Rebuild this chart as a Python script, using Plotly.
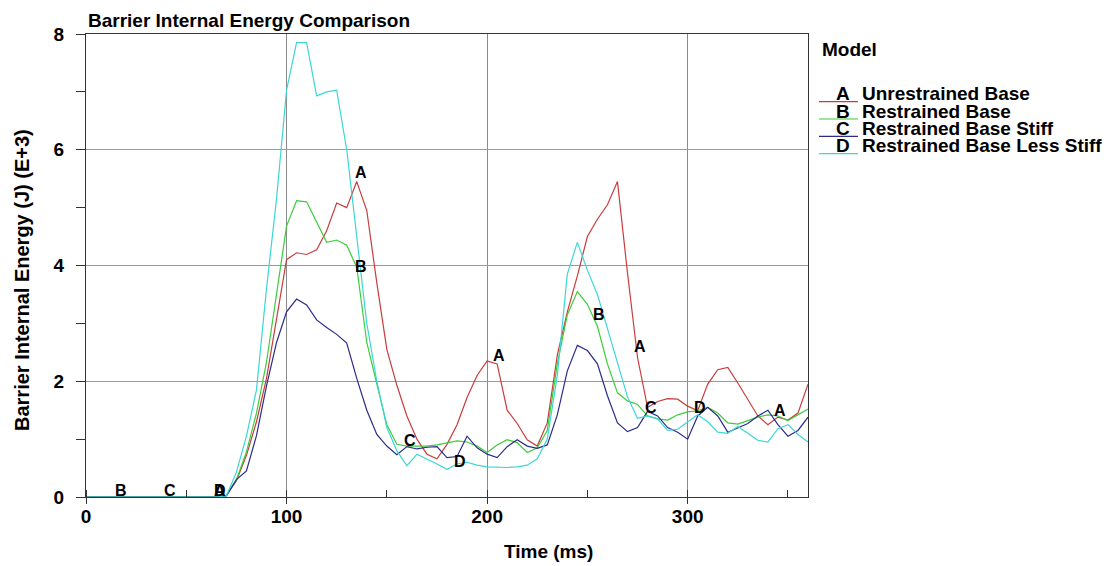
import plotly.graph_objects as go

# ---------------- data ----------------
time_ms = [0, 5, 10, 15, 20, 25, 30, 35, 40, 45, 50, 55, 60, 65,
           70, 75, 80, 85, 90, 95, 100, 105, 110, 115, 120, 125, 130, 135,
           140, 145, 150, 155, 160, 165, 170, 175, 180, 185, 190, 195, 200,
           205, 210, 215, 220, 225, 230, 235, 240, 245, 250, 255, 260, 265,
           270, 275, 280, 285, 290, 295, 300, 305, 310, 315, 320, 325, 330,
           335, 340, 345, 350, 355, 360]

pre_impact = [0.0] * 14  # t = 0 .. 65 ms, all curves flat at zero

unrestrained_base = pre_impact + [
    0.03, 0.28, 0.72, 1.3, 2.05, 3.1, 4.1, 4.22, 4.19, 4.27, 4.6, 5.08, 5.0,
    5.45, 4.95, 3.7, 2.55, 1.93, 1.4, 1.0, 0.74, 0.66, 0.91, 1.25, 1.72, 2.1,
    2.35, 2.3, 1.5, 1.27, 0.99, 0.88, 1.28, 2.45, 3.2, 3.82, 4.5, 4.8, 5.05,
    5.45, 3.87, 2.41, 1.55, 1.65, 1.7, 1.69, 1.57, 1.49, 1.95, 2.2, 2.24,
    1.97, 1.68, 1.4, 1.25, 1.38, 1.33, 1.45, 1.95]

restrained_base = pre_impact + [
    0.03, 0.3, 0.78, 1.45, 2.33, 3.5, 4.68, 5.12, 5.1, 4.75, 4.4, 4.44, 4.35,
    3.97, 2.67, 1.95, 1.25, 0.91, 0.88, 0.88, 0.88, 0.9, 0.94, 0.97, 0.95,
    0.88, 0.77, 0.9, 0.99, 0.94, 0.77, 0.85, 1.15, 2.3, 3.15, 3.55, 3.33,
    2.95, 2.3, 1.8, 1.66, 1.6, 1.4, 1.35, 1.33, 1.42, 1.47, 1.49, 1.55, 1.45,
    1.28, 1.26, 1.32, 1.38, 1.42, 1.4, 1.32, 1.42, 1.52]

restrained_base_stiff = pre_impact + [
    0.02, 0.3, 0.45, 1.06, 1.92, 2.67, 3.2, 3.42, 3.32, 3.06, 2.93, 2.81,
    2.66, 2.05, 1.5, 1.08, 0.88, 0.73, 0.87, 0.83, 0.86, 0.87, 0.68, 0.7,
    1.05, 0.85, 0.74, 0.68, 0.87, 0.99, 0.88, 0.84, 0.9, 1.42, 2.18, 2.62,
    2.53, 2.3, 1.75, 1.28, 1.13, 1.2, 1.48, 1.4, 1.2, 1.12, 1.0, 1.4, 1.55,
    1.4, 1.12, 1.2, 1.27, 1.4, 1.5, 1.25, 1.05, 1.15, 1.38]

restrained_base_less_stiff = pre_impact + [
    0.02, 0.43, 1.05, 1.85, 3.6, 5.15, 7.03, 7.85, 7.85, 6.93, 7.0, 7.03,
    6.0, 4.5, 3.0, 2.0, 1.2, 0.8, 0.54, 0.74, 0.66, 0.57, 0.48, 0.57, 0.6,
    0.55, 0.52, 0.51, 0.51, 0.52, 0.55, 0.66, 1.0, 2.1, 3.85, 4.4, 3.92, 3.5,
    2.9, 2.3, 1.73, 1.36, 1.4, 1.35, 1.15, 1.17, 1.3, 1.42, 1.3, 1.12, 1.1,
    1.22, 1.1, 0.98, 0.95, 1.18, 1.25, 1.08, 0.95]

series_values = [unrestrained_base, restrained_base,
                 restrained_base_stiff, restrained_base_less_stiff]
series_names = ["Unrestrained Base", "Restrained Base",
                "Restrained Base Stiff", "Restrained Base Less Stiff"]
series_letters = ["A", "B", "C", "D"]
series_colors = ["#c93c3c", "#3ccc3c", "#2b2b8c", "#3cd6d6"]

# curve identification letters placed along the curves
label_letters = ["B", "C", "D", "A",
                 "A", "B", "C", "D", "A",
                 "B", "A", "C", "D", "A"]
label_time = [17.4, 41.9, 66.8, 66.8,
              137, 137, 161.4, 186.3, 206,
              256, 276, 281.5, 306, 345.8]
label_energy = [0.12, 0.12, 0.12, 0.12,
                5.6, 3.98, 0.98, 0.62, 2.45,
                3.16, 2.6, 1.55, 1.55, 1.5]

x_ticks = [0, 100, 200, 300]
y_ticks = [0, 2, 4, 6, 8]

# ---------------- figure ----------------
FONT = "Liberation Sans, Arial, sans-serif"
W, H = 1115, 566
L, R, T, B = 86, 808, 34, 497


def px_x(px):
    return (px - L) / (R - L)


def px_y(py):
    return (B - py) / (B - T)


fig = go.Figure()
for vals, name, color in zip(series_values, series_names, series_colors):
    fig.add_trace(go.Scatter(x=time_ms, y=vals, mode="lines", name=name,
                             line=dict(color=color, width=1.2),
                             showlegend=False, hoverinfo="skip"))

annotations = []
for letter, t, e in zip(label_letters, label_time, label_energy):
    annotations.append(dict(x=t, y=e, xref="x", yref="y", text=f"<b>{letter}</b>",
                            showarrow=False, xanchor="center", yanchor="middle",
                            font=dict(family=FONT, size=16, color="black")))

# chart title
annotations.append(dict(x=px_x(86), y=px_y(21), xref="paper", yref="paper",
                        text="<b>Barrier Internal Energy Comparison</b>",
                        showarrow=False, xanchor="left", yanchor="middle",
                        font=dict(family=FONT, size=19, color="black")))
# axis titles
annotations.append(dict(x=px_x(548), y=px_y(551), xref="paper", yref="paper",
                        text="<b>Time (ms)</b>", showarrow=False,
                        xanchor="center", yanchor="middle",
                        font=dict(family=FONT, size=19, color="black")))
annotations.append(dict(x=px_x(22), y=px_y(280), xref="paper", yref="paper",
                        text="<b>Barrier Internal Energy (J) (E+3)</b>",
                        showarrow=False, textangle=-90,
                        xanchor="center", yanchor="middle",
                        font=dict(family=FONT, size=20, color="black")))

# legend drawn by hand: title, letters with coloured underline, names
annotations.append(dict(x=px_x(820), y=px_y(50), xref="paper", yref="paper",
                        text="<b>Model</b>", showarrow=False,
                        xanchor="left", yanchor="middle",
                        font=dict(family=FONT, size=19, color="black")))
shapes = []
for i, (letter, name, color) in enumerate(zip(series_letters, series_names, series_colors)):
    base = 100.7 + 17.3 * i
    mid = base - 6.8
    annotations.append(dict(x=px_x(843), y=px_y(mid), xref="paper", yref="paper",
                            text=f"<b>{letter}</b>", showarrow=False,
                            xanchor="center", yanchor="middle",
                            font=dict(family=FONT, size=19, color="black")))
    annotations.append(dict(x=px_x(860), y=px_y(mid), xref="paper", yref="paper",
                            text=f"<b>{name}</b>", showarrow=False,
                            xanchor="left", yanchor="middle",
                            font=dict(family=FONT, size=19, color="black")))
    shapes.append(dict(type="line", xref="paper", yref="paper",
                       x0=px_x(819), x1=px_x(858), y0=px_y(base + 1), y1=px_y(base + 1),
                       line=dict(color=color, width=1.2)))

fig.update_layout(
    width=W, height=H,
    margin=dict(l=L, r=W - R, t=T, b=H - B, pad=0),
    paper_bgcolor="white", plot_bgcolor="white",
    font=dict(family=FONT, color="black"),
    annotations=annotations, shapes=shapes,
    showlegend=False,
)
fig.update_xaxes(range=[0, 360], tickmode="array", tickvals=x_ticks,
                 showgrid=True, gridcolor="#8a8a8a", gridwidth=1,
                 zeroline=False, showline=True, linecolor="#333333", linewidth=1,
                 mirror=True, ticks="outside", ticklen=6, tickcolor="#333333",
                 ticklabelstandoff=-4,
                 tickfont=dict(family=FONT, size=19, color="black", weight="bold"),
                 minor=dict(tickmode="linear", tick0=0, dtick=50, ticks="inside",
                            ticklen=7, tickcolor="#333333", showgrid=False))
fig.update_yaxes(range=[0, 8], tickmode="array", tickvals=y_ticks,
                 showgrid=True, gridcolor="#9a9a9a", gridwidth=1,
                 zeroline=False, showline=True, linecolor="#333333", linewidth=1,
                 mirror=True, ticks="outside", ticklen=9, tickcolor="#333333",
                 ticklabelstandoff=8,
                 tickfont=dict(family=FONT, size=19, color="black", weight="bold"),
                 minor=dict(tickmode="linear", tick0=0, dtick=1, ticks="outside",
                            ticklen=9, tickcolor="#333333", showgrid=False))

# the page body gets no default margin so the figure sits at the window's corner
fig.write_html("out.html", config={"displayModeBar": False},
               post_script="document.body.style.margin='0px';")
